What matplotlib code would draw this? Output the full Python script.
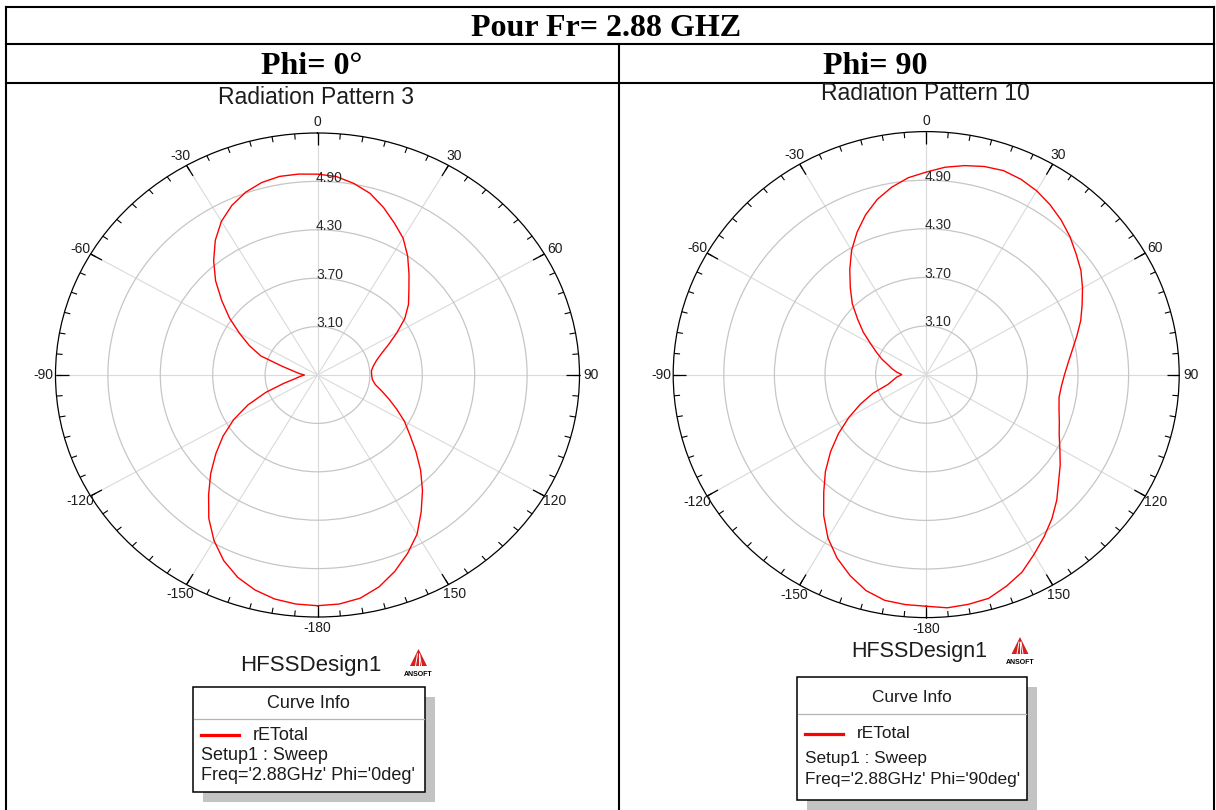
import numpy as np
import matplotlib
matplotlib.use("Agg")
import matplotlib.pyplot as plt
from matplotlib.lines import Line2D
from matplotlib.patches import Rectangle, Polygon

FIG_W, FIG_H = 1216, 810

# ---------------------------------------------------------------- data ----
theta_deg = list(range(-180, 181, 5))

# rETotal (V) at Fr = 2.88 GHz, Phi = 0 deg cut
retotal_phi0 = [
    5.36, 5.35, 5.32, 5.26, 5.17, 5.04, 4.87, 4.67, 4.44, 4.23, 4.02, 3.82,
    3.61, 3.38, 3.13, 2.90, 2.76, 2.70, 2.65, 2.71, 2.78, 2.92, 3.19, 3.36,
    3.53, 3.73, 3.93, 4.15, 4.35, 4.54, 4.70, 4.82, 4.91, 4.97, 5.00, 5.00,
    4.99, 4.97, 4.91, 4.83, 4.71, 4.58, 4.46, 4.30, 4.13, 3.98, 3.86, 3.72,
    3.55, 3.40, 3.28, 3.20, 3.15, 3.12, 3.12, 3.13, 3.17, 3.26, 3.37, 3.50,
    3.65, 3.79, 3.97, 4.17, 4.37, 4.57, 4.78, 4.94, 5.09, 5.22, 5.31, 5.35,
    5.36,
]

# rETotal (V) at Fr = 2.88 GHz, Phi = 90 deg cut
retotal_phi90 = [
    5.36, 5.35, 5.33, 5.26, 5.14, 5.00, 4.83, 4.62, 4.39, 4.19, 3.98, 3.77,
    3.56, 3.36, 3.17, 2.97, 2.90, 2.85, 2.79, 2.85, 2.91, 2.97, 3.06, 3.15,
    3.26, 3.41, 3.56, 3.74, 3.90, 4.08, 4.27, 4.44, 4.60, 4.74, 4.85, 4.94,
    5.00, 5.07, 5.12, 5.16, 5.18, 5.16, 5.12, 5.06, 4.99, 4.91, 4.82, 4.74,
    4.64, 4.54, 4.45, 4.35, 4.26, 4.19, 4.14, 4.11, 4.10, 4.13, 4.18, 4.24,
    4.33, 4.44, 4.55, 4.69, 4.82, 4.94, 5.06, 5.19, 5.28, 5.36, 5.38, 5.39,
    5.36,
]

r_min, r_max = 2.5, 5.5
ring_values = [3.10, 3.70, 4.30, 4.90]
ring_labels = ["3.10", "3.70", "4.30", "4.90"]
angle_positions = [0, 30, 60, 90, 120, 150, 180, 210, 240, 270, 300, 330]
angle_labels = ["0", "30", "60", "90", "120", "150", "-180",
                "-150", "-120", "-90", "-60", "-30"]

main_title = "Pour Fr= 2.88 GHZ"
cut_titles = ["Phi= 0\u00b0", "Phi= 90"]
plot_titles = ["Radiation Pattern 3", "Radiation Pattern 10"]
design_name = "HFSSDesign1"
curve_name = "rETotal"
setup_name = "Setup1 : Sweep"
curve_params = ["Freq='2.88GHz' Phi='0deg'", "Freq='2.88GHz' Phi='90deg'"]

TRACE = "#ff0000"
TXT = "#1c1c1c"
SANS = "Liberation Sans"
SERIF = "Liberation Serif"


def fx(px):
    return px / FIG_W


def fy(py):
    return 1.0 - py / FIG_H


fig = plt.figure(figsize=(FIG_W / 100, FIG_H / 100), dpi=100)
fig.patch.set_facecolor("white")

# ------------------------------------------------------------ table ----
def hline(y, x0, x1, lw=1.5):
    fig.add_artist(Line2D([fx(x0), fx(x1)], [fy(y), fy(y)],
                          transform=fig.transFigure, color="black", lw=lw,
                          solid_capstyle="projecting"))


def vline(x, y0, y1, lw=1.5):
    fig.add_artist(Line2D([fx(x), fx(x)], [fy(y0), fy(y1)],
                          transform=fig.transFigure, color="black", lw=lw,
                          solid_capstyle="projecting"))


hline(7, 6, 1214)
hline(44, 6, 1214)
hline(82.5, 6, 1214)
vline(6, 7, 812)
vline(1214, 7, 812)
vline(619, 44, 812)

fig.text(fx(606), fy(29), main_title, ha="center", va="center",
         family=SERIF, weight="bold", fontsize=23, color="black")
fig.text(fx(312), fy(66), cut_titles[0], ha="center", va="center",
         family=SERIF, weight="bold", fontsize=23, color="black")
fig.text(fx(875), fy(66), cut_titles[1], ha="center", va="center",
         family=SERIF, weight="bold", fontsize=23, color="black")


# ------------------------------------------------------ polar panels ----
def polar_panel(cx, cy, hw, hh, values, title, title_xy):
    ax = fig.add_axes([fx(cx - hw), fy(cy + hh), 2 * hw / FIG_W, 2 * hh / FIG_H],
                      projection="polar")
    ax.set_aspect("auto")
    ax.set_theta_zero_location("N")
    ax.set_theta_direction(-1)
    ax.set_ylim(r_min, r_max)
    ax.set_facecolor("white")

    ax.set_thetagrids(angle_positions, labels=[""] * len(angle_positions))
    ax.set_rgrids(ring_values, labels=[""] * len(ring_values))
    ax.xaxis.grid(True, color="#dadada", lw=0.8)
    ax.yaxis.grid(True, color="#c6c6c6", lw=0.9)
    ax.tick_params(axis="both", length=0)
    ax.spines["polar"].set_color("black")
    ax.spines["polar"].set_linewidth(0.9)

    # tick marks on the outer ring
    minor = np.deg2rad(np.arange(0, 360, 5))
    major = np.deg2rad(np.arange(0, 360, 30))
    ax.vlines(minor, r_max - 0.07, r_max, colors="black", lw=0.8, clip_on=False)
    ax.vlines(major, r_max - 0.15, r_max, colors="black", lw=0.9, clip_on=False)

    for pos, lab in zip(angle_positions, angle_labels):
        ax.text(np.deg2rad(pos), 5.635, lab, ha="center", va="center",
                family=SANS, fontsize=10, color=TXT)

    for rv, lab in zip(ring_values, ring_labels):
        ax.annotate(lab, xy=(0, rv), xytext=(-1.0, 2.6),
                    textcoords="offset points", ha="left", va="center",
                    family=SANS, fontsize=10, color="#2a2a2a")

    ax.plot(np.deg2rad(theta_deg), values, color=TRACE, lw=1.0)

    fig.text(fx(title_xy[0]), fy(title_xy[1]), title, ha="center",
             va="center", family=SANS, fontsize=16.5, color=TXT)
    return ax


polar_panel(317.5, 375.0, 262, 242, retotal_phi0, plot_titles[0], (316.5, 97))
polar_panel(926.2, 374.6, 253, 243, retotal_phi90, plot_titles[1], (925, 93.5))


# ------------------------------------------------------ curve info ----
def ansoft_logo(cx, top, text_y):
    w, h = 17, 17
    fig.add_artist(Polygon([(fx(cx - w / 2), fy(top + h)), (fx(cx), fy(top)),
                            (fx(cx + w / 2), fy(top + h))], closed=True,
                           transform=fig.transFigure, facecolor="#d42020",
                           edgecolor="none"))
    for dx in (-3.0, 0.0, 3.0):
        fig.add_artist(Line2D([fx(cx + dx * 0.35), fx(cx + dx)],
                              [fy(top + 5), fy(top + h)],
                              transform=fig.transFigure, color="white", lw=0.7))
    fig.text(fx(cx), fy(text_y), "ANSOFT", ha="center", va="center",
             family=SANS, weight="bold", fontsize=5, color="black")


def curve_info(box, divider_y, title_y, line_y, setup_y, param_y, params, fs):
    x0, y0, x1, y1 = box
    fig.add_artist(Rectangle((fx(x0 + 10), fy(y1 + 10)), (x1 - x0) / FIG_W,
                             (y1 - y0) / FIG_H, transform=fig.transFigure,
                             facecolor="#c3c3c3", edgecolor="none"))
    fig.add_artist(Rectangle((fx(x0), fy(y1)), (x1 - x0) / FIG_W,
                             (y1 - y0) / FIG_H, transform=fig.transFigure,
                             facecolor="white", edgecolor="black", lw=1.1))
    fig.add_artist(Line2D([fx(x0 + 1), fx(x1 - 1)], [fy(divider_y)] * 2,
                          transform=fig.transFigure, color="#b4b4b4", lw=0.9))
    fig.text(fx((x0 + x1) / 2), fy(title_y), "Curve Info", ha="center",
             va="center", family=SANS, fontsize=fs, color=TXT)
    lx = x0 + 8
    fig.add_artist(Line2D([fx(lx), fx(lx + 38)], [fy(line_y)] * 2,
                          transform=fig.transFigure, color=TRACE, lw=2.3))
    fig.text(fx(lx + 52), fy(line_y), curve_name, ha="left", va="center",
             family=SANS, fontsize=fs, color=TXT)
    fig.text(fx(lx), fy(setup_y), setup_name, ha="left", va="center",
             family=SANS, fontsize=fs, color=TXT)
    fig.text(fx(lx), fy(param_y), params, ha="left", va="center",
             family=SANS, fontsize=fs, color=TXT)


fig.text(fx(311), fy(665), design_name, ha="center", va="center",
         family=SANS, fontsize=16, color=TXT)
ansoft_logo(418.5, 649, 674)
curve_info((192.7, 686.7, 425, 791.7), 718.7, 703, 735, 756, 776,
           curve_params[0], 13)

fig.text(fx(919), fy(652), design_name, ha="center", va="center",
         family=SANS, fontsize=15.5, color=TXT)
ansoft_logo(1020, 637, 663)
curve_info((797.3, 677.3, 1026.7, 800), 714.3, 697.3, 734, 758.3, 779.3,
           curve_params[1], 12.4)

fig.savefig("out.png", dpi=100, facecolor="white")
